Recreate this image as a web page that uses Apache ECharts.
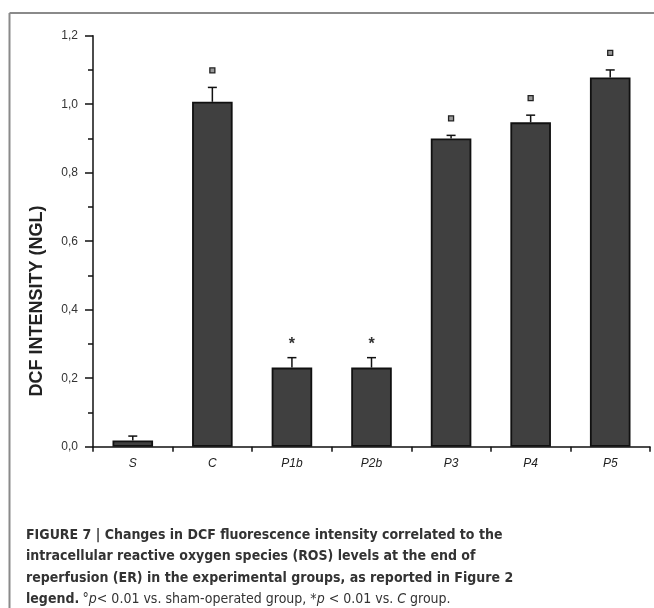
<!DOCTYPE html>
<html><head><meta charset="utf-8">
<script src="https://cdn.jsdelivr.net/npm/echarts@6/dist/echarts.min.js"></script>
<style>html,body{margin:0;padding:0;background:#fff}#c{width:654px;height:608px}</style>
</head><body><div id="c"></div>
<script>
const categories = ['S', 'C', 'P1b', 'P2b', 'P3', 'P4', 'P5'];
const values = [0.018, 1.007, 0.231, 0.231, 0.900, 0.947, 1.078];
const errors = [0.013, 0.042, 0.029, 0.029, 0.009, 0.021, 0.022];
const marks = ['', '°', '*', '*', '°', '°', '°'];
const yTicks = [0, 0.2, 0.4, 0.6, 0.8, 1.0, 1.2];
const yTitle = 'DCF INTENSITY (NGL)';
const captionLines = [
  'FIGURE 7 | Changes in DCF fluorescence intensity correlated to the',
  'intracellular reactive oxygen species (ROS) levels at the end of',
  'reperfusion (ER) in the experimental groups, as reported in Figure 2'
];

const chart = echarts.init(document.getElementById('c'));
const capFont = "'Liberation Sans Narrow', 'DejaVu Sans Condensed', 'Roboto', sans-serif";
const errData = categories.map((c, i) => [i, values[i], errors[i], marks[i]]);

chart.setOption({
  animation: false,
  grid: { left: 93, right: 4, top: 35.7, bottom: 161.3, containLabel: false },
  xAxis: {
    type: 'category', data: categories,
    axisLine: { lineStyle: { color: '#111', width: 1.5 } },
    axisTick: { show: true, alignWithLabel: false, length: 5, lineStyle: { color: '#111', width: 1.5 } },
    axisLabel: { fontStyle: 'italic', fontFamily: 'Liberation Sans, Arial, sans-serif', fontSize: 12, color: '#222', margin: 11 }
  },
  yAxis: {
    type: 'value', min: yTicks[0], max: yTicks[yTicks.length - 1], interval: 0.2,
    axisLine: { show: true, lineStyle: { color: '#111', width: 1.5 } },
    axisTick: { show: true, length: 8, lineStyle: { color: '#111', width: 1.5 } },
    minorTick: { show: true, splitNumber: 2, length: 5, lineStyle: { color: '#111', width: 1.5 } },
    splitLine: { show: false },
    axisLabel: { fontFamily: 'Liberation Sans, Arial, sans-serif', fontSize: 12, color: '#333', margin: 15,
      formatter: v => v.toFixed(1).replace('.', ',') }
  },
  graphic: [
    { type: 'line', shape: { x1: 9.5, y1: 13, x2: 654, y2: 13 }, style: { stroke: '#8a8a8a', lineWidth: 2 }, silent: true },
    { type: 'line', shape: { x1: 9.5, y1: 13, x2: 9.5, y2: 608 }, style: { stroke: '#8a8a8a', lineWidth: 2 }, silent: true },
    { type: 'text', x: 37, y: 301, rotation: Math.PI / 2,
      style: { text: yTitle, font: "bold 18px 'Liberation Sans', Arial, sans-serif", fill: '#222', align: 'center', verticalAlign: 'middle' } },
    { type: 'text', x: 26, y: 528, style: { text: captionLines[0], font: 'bold 14px ' + capFont, fill: '#333', verticalAlign: 'alphabetic' } },
    { type: 'text', x: 26, y: 549.5, style: { text: captionLines[1], font: 'bold 14px ' + capFont, fill: '#333', verticalAlign: 'alphabetic' } },
    { type: 'text', x: 26, y: 571, style: { text: captionLines[2], font: 'bold 14px ' + capFont, fill: '#333', verticalAlign: 'alphabetic' } },
    { type: 'text', x: 26, y: 592.5, style: {
      text: '{b|legend.} {n|°}{i|p}{n|< 0.01 vs. sham-operated group, *}{i|p}{n| < 0.01 vs. }{i|C}{n| group.}',
      verticalAlign: 'alphabetic',
      rich: {
        b: { font: 'bold 14px ' + capFont, fill: '#333' },
        n: { font: '14px ' + capFont, fill: '#333' },
        i: { font: 'italic 14px ' + capFont, fill: '#333' }
      } } }
  ],
  series: [
    {
      type: 'bar', data: values, barWidth: '51%',
      itemStyle: { color: '#404040', borderColor: '#111', borderWidth: 1.8 }
    },
    {
      type: 'custom', data: errData, z: 5,
      renderItem: (params, api) => {
        const x = api.value(0), v = api.value(1), e = api.value(2);
        const m = marks[params.dataIndex];
        const p0 = api.coord([x, v]);
        const p1 = api.coord([x, v + e]);
        const children = [
          { type: 'line', shape: { x1: p0[0], y1: p0[1], x2: p1[0], y2: p1[1] }, style: { stroke: '#111', lineWidth: 1.5 } },
          { type: 'line', shape: { x1: p1[0] - 4.5, y1: p1[1], x2: p1[0] + 4.5, y2: p1[1] }, style: { stroke: '#111', lineWidth: 1.5 } }
        ];
        if (m === '°') {
          children.push({ type: 'rect', shape: { x: p1[0] - 2.5, y: p1[1] - 19.5, width: 5, height: 5 }, style: { fill: '#999', stroke: '#222', lineWidth: 1.3 } });
        } else if (m === '*') {
          children.push({ type: 'text', x: p1[0], y: p1[1] - 13, style: { text: '*', font: "bold 16px 'Liberation Sans', Arial, sans-serif", fill: '#333', align: 'center', verticalAlign: 'middle' } });
        }
        return { type: 'group', children };
      }
    }
  ]
});
</script>
</body></html>
